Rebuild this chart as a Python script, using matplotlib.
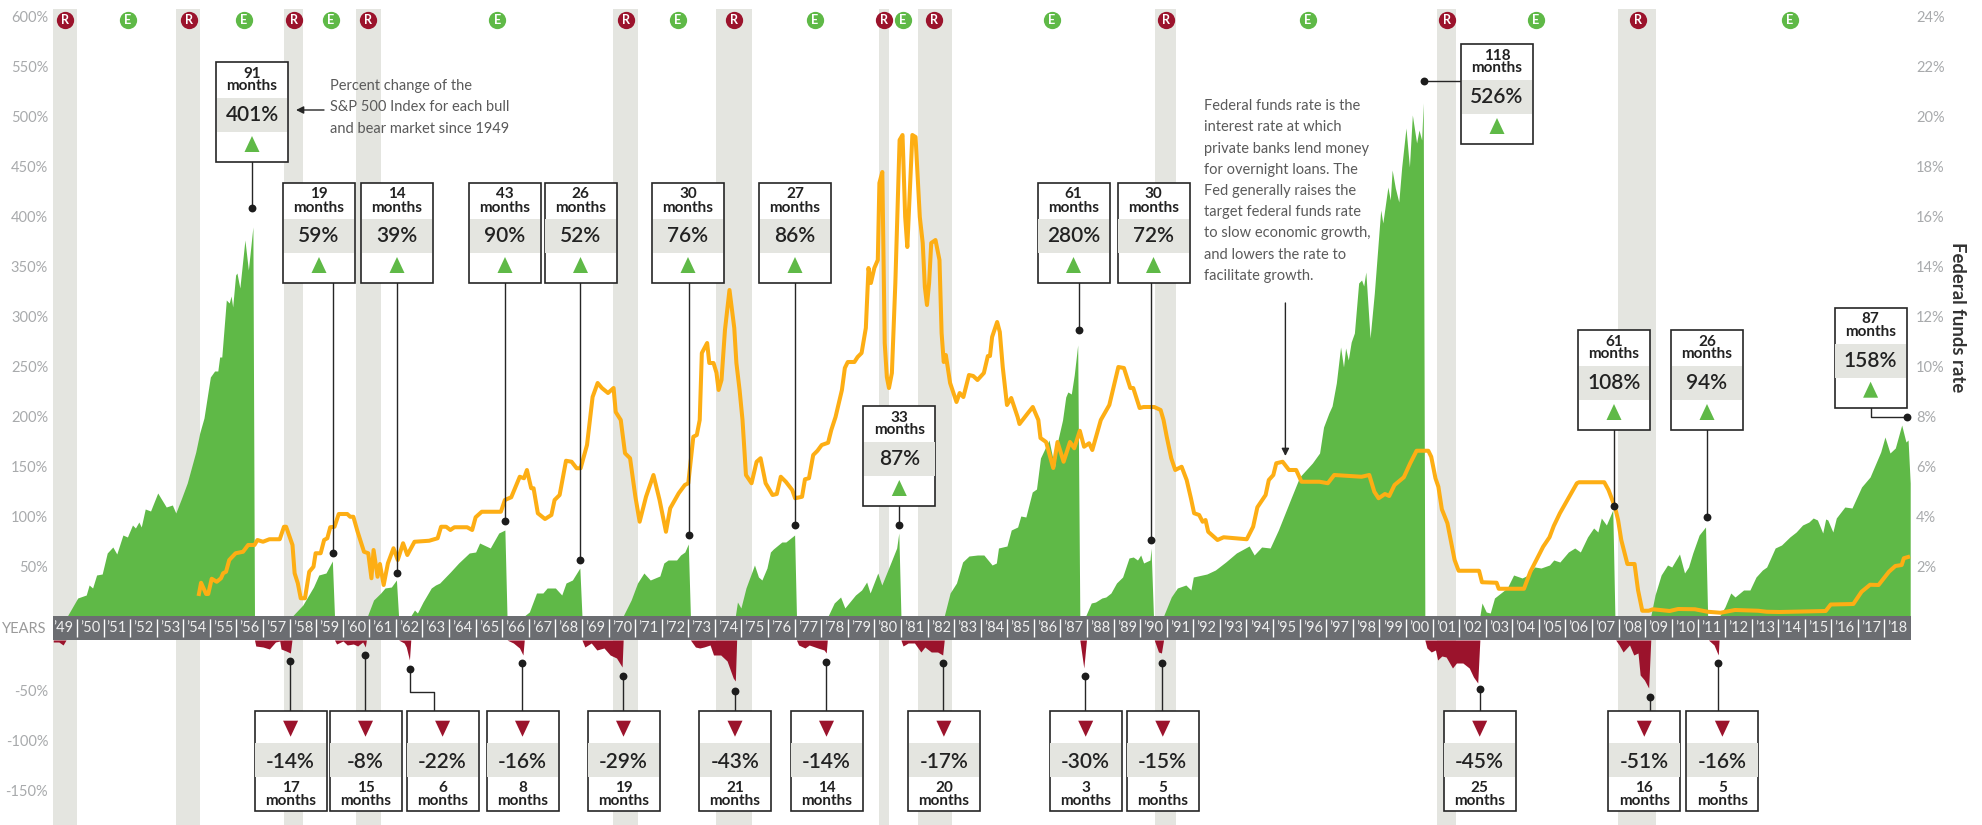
import matplotlib
matplotlib.use("Agg")
import matplotlib.pyplot as plt
from matplotlib.patches import Rectangle, Polygon

plt.rcParams['font.family'] = ['Lato', 'DejaVu Sans']

W, H = 1982, 825

year_labels = list(range(1949, 2019))

# S&P 500 bull markets, percent gain, zero between runs
bull_years = [
    1949.64,1950.03,1950.35,1950.46,1950.59,1950.74,1950.95,1951.14,1951.35,1951.50,1951.73,1951.90,1952.09,1952.20,1952.33,1952.42,1952.57,1952.77,1953.04,1953.36,1953.59,1953.72,1953.94,1954.15,1954.47,1954.62,1954.78,1955.02,1955.18,1955.30,1955.37,1955.45,1955.62,1955.73,1955.80,1955.86,1955.97,1956.02,1956.13,1956.32,1956.45,1956.62,1956.68,
    1958.11,1958.50,1958.90,1959.10,1959.37,1959.61,1959.69,
    1960.93,1961.16,1961.43,1961.59,1961.83,1962.02,1962.10,
    1962.56,1962.70,1962.81,1963.02,1963.33,1963.49,1963.65,1964.05,1964.36,1964.76,1965.00,1965.15,1965.31,1965.55,1965.87,1966.10,1966.18,
    1966.83,1967.02,1967.29,1967.53,1967.69,1968.00,1968.24,1968.40,1968.64,1968.92,1969.00,
    1970.55,1970.85,1971.09,1971.33,1971.57,1971.93,1972.08,1972.24,1972.56,1972.71,1972.87,1973.00,1973.08,
    1974.77,1974.85,1974.98,1975.17,1975.49,1975.64,1975.77,1975.96,1976.09,1976.20,1976.52,1976.67,1977.00,1977.07,
    1978.26,1978.49,1978.73,1978.89,1979.29,1979.52,1979.71,1979.84,1980.13,1980.28,1980.63,1980.84,1980.92,1981.00,
    1982.63,1982.85,1983.09,1983.32,1983.56,1983.88,1984.12,1984.43,1984.59,1984.67,1984.99,1985.15,1985.39,1985.51,1985.70,1985.94,1986.10,1986.25,1986.57,1986.78,1986.89,1987.08,1987.20,1987.28,1987.41,1987.52,1987.65,1987.73,
    1987.95,1988.16,1988.32,1988.56,1988.71,1988.90,1989.11,1989.34,1989.58,1989.74,1989.90,1990.02,1990.13,1990.37,1990.41,1990.50,
    1990.88,1991.17,1991.40,1991.72,1991.91,1992.00,1992.51,1992.83,1993.22,1993.62,1994.10,1994.29,1994.57,1994.89,1995.20,1995.68,1996.00,1996.48,1996.75,1996.90,1997.10,1997.22,1997.38,1997.54,1997.65,1997.73,1997.83,1997.94,1998.06,1998.22,1998.33,1998.41,1998.49,1998.65,1998.81,1999.05,1999.13,1999.32,1999.41,1999.48,1999.60,1999.73,1999.84,2000.00,2000.13,2000.24,2000.40,2000.49,2000.59,2000.65,2000.71,
    2002.78,2002.86,2003.02,2003.17,2003.33,2003.57,2003.81,2004.05,2004.37,2004.60,2004.84,2005.08,2005.40,2005.56,2005.79,2006.11,2006.35,2006.56,2006.83,2007.06,2007.22,2007.35,2007.54,2007.78,2007.86,
    2009.21,2009.37,2009.60,2009.84,2010.00,2010.29,2010.48,2010.63,2010.79,2011.03,2011.27,2011.35,
    2011.80,2012.00,2012.22,2012.38,2012.70,2012.94,2013.17,2013.41,2013.57,2013.89,2014.13,2014.44,2014.68,2014.92,2015.16,2015.32,2015.48,2015.68,2015.79,2015.87,2016.06,2016.19,2016.51,2016.78,2017.14,2017.46,2017.86,2018.02,2018.21,2018.41,2018.65,2018.81,2018.89,2018.97,
]
bull_pct = [
    0,18,21,31,28,41,42,63,69,62,81,79,91,88,94,89,107,105,123,109,111,103,118,133,164,183,198,239,245,245,259,259,316,313,320,309,341,343,328,376,346,389,0,
    0,11,29,41,43,55,0,
    0,16,23,28,29,36,0,
    0,6,3,14,28,31,33,44,53,63,64,73,71,68,83,86,0,
    0,4,23,23,28,28,21,33,36,48,0,
    0,16,33,43,36,40,53,56,56,61,64,72,0,
    0,14,8,28,51,39,36,48,64,67,74,74,81,0,
    0,13,19,8,21,26,34,23,43,31,54,68,83,0,
    0,23,33,54,60,61,61,51,53,68,70,86,89,100,99,124,127,158,176,149,174,196,219,224,222,241,271,0,
    0,13,14,18,19,23,33,39,58,59,56,61,53,56,68,0,
    0,19,28,31,26,39,42,46,54,63,70,61,69,68,86,118,139,153,163,189,203,210,233,269,249,268,256,274,283,333,336,330,344,278,323,406,393,429,416,446,428,414,449,488,449,501,473,486,476,513,0,
    0,13,4,3,18,23,28,41,38,41,49,48,51,56,54,64,68,64,79,88,84,98,91,106,0,
    0,21,41,51,49,62,43,49,63,81,89,0,
    0,9,23,19,26,26,39,46,49,68,71,79,84,91,94,98,96,83,97,96,84,98,109,108,129,139,164,179,163,168,191,174,176,133,
]

# bear markets, percent loss
bear_years = [
    1949.11,1949.32,1949.48,1949.59,
    1956.68,1956.73,1957.00,1957.24,1957.47,1957.63,1957.68,1957.87,1958.03,1958.09,
    1959.69,1959.77,1960.01,1960.17,1960.40,1960.56,1960.75,1960.85,1960.89,
    1962.10,1962.31,1962.39,1962.51,1962.56,
    1966.18,1966.42,1966.65,1966.78,1966.83,
    1969.00,1969.11,1969.35,1969.56,1969.83,1970.06,1970.30,1970.51,1970.55,
    1973.08,1973.27,1973.43,1973.59,1973.82,1973.95,1974.22,1974.46,1974.69,1974.77,1974.82,
    1977.07,1977.15,1977.39,1977.55,1977.87,1978.11,1978.19,1978.23,
    1981.00,1981.08,1981.27,1981.51,1981.75,1981.90,1982.14,1982.38,1982.57,1982.63,
    1987.73,1987.88,1987.98,
    1990.53,1990.69,1990.80,1990.88,
    2000.71,2000.79,2000.95,2001.11,2001.19,2001.35,2001.51,2001.75,2001.90,2002.14,2002.38,2002.54,2002.70,2002.78,
    2007.89,2008.02,2008.17,2008.41,2008.57,2008.73,2008.81,2008.97,2009.13,2009.21,
    2011.38,2011.59,2011.70,2011.75,2011.78,
]
bear_pct = [
    -2,-2,-5,0,
    0,-6,-7,-9,-2,-1,-9,-11,-13,0,
    0,-4,-1,-5,-4,-6,-2,-7,0,
    0,-3,-7,-20,0,
    0,-3,-8,-15,0,
    0,-7,-3,-10,-8,-15,-18,-27,0,
    0,-7,-8,-7,-5,-15,-15,-21,-38,-41,0,
    0,-5,-8,-5,-8,-10,-13,0,
    0,-6,-3,-3,-12,-7,-12,-12,-15,0,
    0,-28,0,
    0,-12,-13,0,
    0,-8,-12,-10,-20,-16,-17,-28,-23,-23,-28,-37,-43,0,
    0,-5,-12,-5,-15,-13,-35,-40,-48,0,
    0,-5,-12,-15,0,
]

# effective federal funds rate
rate_years = [
    1954.59,1954.67,1954.86,1954.94,1955.07,1955.26,1955.42,1955.50,1955.61,1955.73,
    1955.97,1956.25,1956.44,1956.68,1956.79,1957.00,1957.24,1957.63,1957.79,1957.87,
    1958.11,1958.19,1958.31,1958.42,1958.58,1958.74,1958.90,1958.98,1959.17,1959.30,
    1959.42,1959.53,1959.69,1959.85,1960.17,1960.28,1960.40,1960.56,1960.80,1960.96,
    1961.08,1961.16,1961.31,1961.40,1961.54,1961.70,1961.91,1962.07,1962.27,1962.43,
    1962.70,1963.25,1963.57,1963.70,1963.89,1964.05,1964.20,1964.68,1964.87,1965.00,
    1965.23,1965.95,1966.10,1966.34,1966.66,1966.82,1966.93,1967.09,1967.18,1967.34,
    1967.61,1967.85,1967.97,1968.16,1968.40,1968.61,1968.80,1968.95,1969.19,1969.40,
    1969.59,1969.75,1969.98,1970.19,1970.27,1970.46,1970.62,1970.81,1971.01,1971.17,
    1971.41,1971.69,1971.92,1972.16,1972.32,1972.64,1972.87,1973.00,1973.19,1973.32,
    1973.43,1973.51,1973.71,1973.79,1973.95,1974.06,1974.14,1974.25,1974.38,1974.55,
    1974.73,1974.81,1974.93,1975.04,1975.17,1975.38,1975.57,1975.72,1975.91,1976.17,
    1976.33,1976.48,1976.67,1976.91,1977.02,1977.28,1977.39,1977.54,1977.70,1977.86,
    1978.02,1978.26,1978.38,1978.54,1978.78,1978.89,1979.00,1979.25,1979.37,1979.52,
    1979.68,1979.78,1979.87,1980.00,1980.13,1980.19,1980.30,1980.39,1980.47,1980.55,
    1980.66,1980.79,1980.95,1981.06,1981.16,1981.24,1981.32,1981.43,1981.55,1981.71,
    1981.82,1981.90,1981.98,1982.06,1982.14,1982.30,1982.45,1982.53,1982.61,1982.69,
    1982.85,1983.09,1983.21,1983.35,1983.56,1983.72,1983.88,1984.12,1984.27,1984.35,
    1984.43,1984.62,1984.72,1984.83,1984.99,1985.15,1985.39,1985.46,1985.78,1985.96,
    1986.17,1986.25,1986.46,1986.73,1986.89,1987.12,1987.36,1987.52,1987.73,1987.89,
    1988.08,1988.20,1988.52,1988.84,1989.18,1989.39,1989.63,1989.74,1989.98,1990.13,
    1990.53,1990.77,1990.88,1991.00,1991.17,1991.32,1991.56,1991.75,1991.91,1992.03,
    1992.22,1992.35,1992.46,1992.56,1992.91,1993.14,1994.01,1994.25,1994.41,1994.72,
    1994.84,1995.01,1995.12,1995.36,1995.60,1995.87,1996.07,1996.75,1997.06,1997.30,
    1998.33,1998.62,1998.81,1998.97,1999.21,1999.37,1999.57,1999.76,1999.92,2000.16,
    2000.40,2000.84,2000.95,2001.11,2001.22,2001.35,2001.56,2001.83,2001.98,2002.75,
    2002.86,2003.41,2003.49,2004.44,2004.68,2005.16,2005.40,2005.56,2005.79,2006.43,
    2006.51,2007.46,2007.62,2007.86,2007.98,2008.10,2008.33,2008.60,2008.73,2008.89,
    2009.13,2009.29,2009.92,2010.24,2010.87,2011.35,2011.83,2012.38,2013.25,2013.57,
    2014.05,2015.79,2015.98,2016.83,2017.14,2017.46,2017.78,2018.17,2018.41,2018.65,
    2018.73,2018.89,
]
rate_pct = [
    0.88,1.33,0.88,0.88,1.49,1.37,1.51,1.71,1.77,2.24,
    2.51,2.57,2.84,2.84,3.04,2.97,3.07,3.07,3.57,3.57,
    2.84,1.71,1.31,0.71,0.71,1.77,1.97,2.51,2.51,3.04,
    3.11,3.55,3.57,4.08,4.08,3.97,3.97,3.37,2.57,2.51,
    1.51,2.64,1.57,2.08,1.24,2.11,2.71,2.24,2.91,2.44,
    2.97,3.01,3.11,3.57,3.57,3.44,3.55,3.55,3.44,3.95,
    4.17,4.17,4.64,4.75,5.57,5.51,5.84,5.11,5.11,4.11,
    3.88,4.04,4.64,4.84,6.21,6.17,5.91,5.91,6.84,8.76,
    9.32,9.12,8.92,9.12,8.16,7.84,6.51,6.31,4.77,3.77,
    4.77,5.64,4.64,3.37,4.31,4.91,5.24,5.31,7.17,7.24,
    7.84,10.52,10.92,10.12,10.12,9.73,9.04,9.44,11.44,13.04,
    11.52,10.12,9.04,7.84,5.64,5.31,6.17,6.31,5.31,4.84,
    4.88,5.57,5.37,5.04,4.71,4.77,5.47,5.51,6.44,6.61,
    6.84,6.93,7.44,7.96,9.04,9.92,10.16,10.16,10.36,10.52,
    11.52,13.92,13.32,13.92,14.24,17.32,17.76,10.92,9.56,9.12,
    9.72,13.32,19.04,19.24,15.96,14.76,16.64,19.24,19.16,15.96,
    14.92,13.16,12.44,13.32,14.92,15.04,14.24,11.32,10.16,10.44,
    9.32,8.56,8.92,8.76,9.64,9.60,9.44,9.72,10.40,10.40,
    11.16,11.76,11.36,9.96,8.44,8.72,7.96,7.68,8.12,8.36,
    7.84,7.12,6.96,5.92,6.96,6.17,6.96,6.71,7.41,6.77,
    6.91,6.64,7.84,8.44,9.96,9.92,9.12,9.12,8.32,8.36,
    8.36,8.24,7.84,7.17,6.31,5.84,5.97,5.44,4.71,4.11,
    4.04,3.77,3.84,3.37,3.04,3.15,3.07,3.57,4.35,4.84,
    5.44,5.64,6.11,6.17,5.84,5.84,5.37,5.37,5.31,5.64,
    5.57,5.64,4.97,4.71,4.88,4.80,5.24,5.41,5.55,6.11,
    6.61,6.61,6.37,5.51,5.17,4.27,3.71,2.24,1.81,1.81,
    1.35,1.33,1.09,1.09,1.77,2.77,3.15,3.60,4.11,5.31,
    5.35,5.35,5.04,4.37,3.84,3.04,2.08,2.08,1.04,0.21,
    0.21,0.27,0.20,0.28,0.27,0.17,0.13,0.24,0.21,0.17,
    0.16,0.20,0.46,0.48,0.97,1.25,1.24,1.77,2.00,2.04,
    2.31,2.36,
]

recession_start = [1949.10,1953.72,1957.79,1960.50,1970.16,1974.03,1980.16,1981.63,1990.56,2001.17,2007.98]
recession_end = [1950.00,1954.62,1958.50,1961.43,1971.11,1975.39,1980.54,1982.94,1991.34,2001.89,2009.41]
r_marks = [1949.56,1954.20,1958.16,1960.96,1970.65,1974.73,1980.38,1982.26,1990.96,2001.54,2008.73]
e_marks = [1951.92,1956.27,1959.56,1965.82,1972.60,1977.75,1981.08,1986.68,1996.31,2004.89,2014.44]

up_ticks = [50,100,150,200,250,300,350,400,450,500,550,600]
down_ticks = [-50,-100,-150]
rate_ticks = [2,4,6,8,10,12,14,16,18,20,22,24]

# callouts: months, percent text
bull_months = [91,19,14,43,26,30,27,33,61,30,118,61,26,87]
bull_text = ['401%','59%','39%','90%','52%','76%','86%','87%','280%','72%','526%','108%','94%','158%']
bear_months = [17,15,6,8,19,21,14,20,3,5,25,16,5]
bear_text = ['-14%','-8%','-22%','-16%','-29%','-43%','-14%','-17%','-30%','-15%','-45%','-51%','-16%']

# box placement in figure pixels
bull_box_left = [216,283,361,469,544.5,652,759,863.3,1037.5,1117.5,1461,1578,1671,1834.6]
bull_box_top = [62,183,183,183,183,183,183,406,183,183,44,330,330,307.7]
bull_line_x = [252,332.5,396.5,504.6,580.4,688.6,794.7,899,1078.8,1151,None,1614,1706.7,None]
bull_dot_y = [208,553,573,520.7,559.7,535,525,524.7,330,539.7,None,506,517,None]
bear_box_left = [254.6,329.5,406.6,486.5,587.5,699,790.5,907.9,1049.7,1126.8,1443.7,1608.3,1686.4]
bear_line_x = [290.4,365.3,410,522.3,622.9,735,825.8,943.2,1085,1162,1479.6,1649.7,1718]
bear_dot_y = [661,655,669.3,663.3,676,690.7,661.7,663,676.3,663.3,689.3,697.3,663]

GREEN = '#5fb947'
RED = '#9b132c'
ORANGE = '#fdae14'
BAND = '#e4e5e0'
BAR = '#6b6d71'
DARK = '#262626'
TICK = '#a8aaac'
NOTE = '#5a5a5a'

X0, X1 = 1949.10, 2019.0


def px_axes(left, top, right, bottom, **kw):
    return fig.add_axes([left / W, 1 - bottom / H, (right - left) / W, (bottom - top) / H], **kw)


fig = plt.figure(figsize=(W / 100, H / 100), dpi=100)

# recession bands and R / E badges
ax_bg = px_axes(53, 9, 1911, 825)
ax_bg.set_xlim(X0, X1)
ax_bg.set_ylim(816, 0)
ax_bg.axis('off')
for a, b in zip(recession_start, recession_end):
    ax_bg.axvspan(a, b, color=BAND, lw=0)
ax_bg.scatter(r_marks, [11] * len(r_marks), s=155, color=RED, lw=0, zorder=3)
ax_bg.scatter(e_marks, [11] * len(e_marks), s=155, color=GREEN, lw=0, zorder=3)
for x in r_marks:
    ax_bg.text(x, 11, 'R', color='white', fontsize=9, fontweight='bold', ha='center', va='center', zorder=4)
for x in e_marks:
    ax_bg.text(x, 11, 'E', color='white', fontsize=9, fontweight='bold', ha='center', va='center', zorder=4)

# bull markets
ax_up = px_axes(53, 9, 1911, 616)
ax_up.patch.set_alpha(0)
ax_up.set_xlim(X0, X1)
ax_up.set_ylim(0, 607)
ax_up.fill_between(bull_years, bull_pct, 0, color=GREEN, lw=0)
ax_up.set_xticks([])
ax_up.set_yticks(up_ticks)
ax_up.set_yticklabels([f'{t}%' for t in up_ticks])
ax_up.tick_params(axis='y', length=0, pad=3.5, labelsize=10.5, labelcolor=TICK)
for s in ax_up.spines.values():
    s.set_visible(False)

# federal funds rate on its own scale
ax_rate = ax_up.twinx()
ax_rate.patch.set_alpha(0)
ax_rate.set_ylim(0, 607 / 25)
ax_rate.plot(rate_years, rate_pct, color=ORANGE, lw=2.9, solid_joinstyle='round')
ax_rate.set_yticks(rate_ticks)
ax_rate.set_yticklabels([f'{t}%' for t in rate_ticks])
ax_rate.tick_params(axis='y', length=0, pad=3.5, labelsize=10.5, labelcolor=TICK)
for s in ax_rate.spines.values():
    s.set_visible(False)

# year strip
ax_yr = px_axes(53, 616, 1911, 640)
ax_yr.set_xlim(X0, X1)
ax_yr.set_ylim(0, 1)
ax_yr.set_facecolor(BAR)
ax_yr.set_xticks([])
ax_yr.set_yticks([])
for s in ax_yr.spines.values():
    s.set_visible(False)
ax_yr.vlines(year_labels[1:], 0.12, 0.88, color='white', lw=1)
for y in year_labels:
    ax_yr.text(y + 0.5, 0.48, f"\u2019{y % 100:02d}", color='#efefef', fontsize=10.5, ha='center', va='center', clip_on=True)

# bear markets
ax_down = px_axes(53, 640, 1911, 825)
ax_down.patch.set_alpha(0)
ax_down.set_xlim(X0, X1)
ax_down.set_ylim(-185, 0)
ax_down.fill_between(bear_years, bear_pct, 0, color=RED, lw=0)
ax_down.set_xticks([])
ax_down.set_yticks(down_ticks)
ax_down.set_yticklabels([f'{t}%' for t in down_ticks])
ax_down.tick_params(axis='y', length=0, pad=3.5, labelsize=10.5, labelcolor=TICK)
for s in ax_down.spines.values():
    s.set_visible(False)

# overlay in figure pixels for callouts and notes
ov = fig.add_axes([0, 0, 1, 1], zorder=10)
ov.patch.set_alpha(0)
ov.set_xlim(0, W)
ov.set_ylim(H, 0)
ov.axis('off')


def dot(x, y):
    ov.scatter([x], [y], s=32, color='#1c1c1c', lw=0, zorder=6)


def box(left, top, months, text, up):
    bw, bh = 72, 100
    ov.add_patch(Rectangle((left, top), bw, bh, fc='white', ec=DARK, lw=1.2, zorder=3))
    cx = left + bw / 2
    if up:
        band_y, val_y, m1_y, m2_y = top + 36, top + 53, top + 11.5, top + 24.5
        tri = [(cx, top + 74), (cx - 7.5, top + 90), (cx + 7.5, top + 90)]
        col = GREEN
    else:
        band_y, val_y, m1_y, m2_y = top + 32.5, top + 51, top + 77, top + 90
        tri = [(cx - 7.5, top + 10), (cx + 7.5, top + 10), (cx, top + 26)]
        col = RED
    ov.add_patch(Rectangle((left + 0.6, band_y), bw - 1.2, 34, fc=BAND, lw=0, zorder=4))
    ov.add_patch(Polygon(tri, closed=True, fc=col, lw=0, zorder=4))
    ov.text(cx, val_y, text, fontsize=15, fontweight='semibold', color='#222222', ha='center', va='center', zorder=5)
    ov.text(cx, m1_y, str(months), fontsize=11, fontweight='bold', color='#222222', ha='center', va='center', zorder=5)
    ov.text(cx, m2_y, 'months', fontsize=11, fontweight='bold', color='#222222', ha='center', va='center', zorder=5)


for i in range(len(bull_months)):
    left, top = bull_box_left[i], bull_box_top[i]
    if bull_line_x[i] is not None:
        ov.plot([bull_line_x[i]] * 2, [top + 100, bull_dot_y[i]], color=DARK, lw=1, zorder=2)
        dot(bull_line_x[i], bull_dot_y[i])
    box(left, top, bull_months[i], bull_text[i], True)

# the two callouts with elbow or sideways leaders
ov.plot([1424, 1461], [80.7, 80.7], color=DARK, lw=1, zorder=2)
dot(1424, 80.7)
ov.plot([1871, 1871, 1906.7], [408, 416.7, 416.7], color=DARK, lw=1, zorder=2)
dot(1906.7, 416.7)

for i in range(len(bear_months)):
    left = bear_box_left[i]
    if bear_months[i] == 6:
        ov.plot([410, 410, 434.3, 434.3], [bear_dot_y[i], 691.7, 691.7, 710.7], color=DARK, lw=1, zorder=2)
    else:
        ov.plot([bear_line_x[i]] * 2, [bear_dot_y[i], 710.7], color=DARK, lw=1, zorder=2)
    dot(bear_line_x[i], bear_dot_y[i])
    box(left, 710.7, bear_months[i], bear_text[i], False)

ov.text(46, 629, 'YEARS', fontsize=10.5, color='#9a9a9a', ha='right', va='center')
ov.text(1958, 317, 'Federal funds rate', fontsize=13.3, fontweight='bold', color='#333333',
        rotation=270, ha='center', va='center')

note1 = ['Percent change of the', 'S&P 500 Index for each bull', 'and bear market since 1949']
for i, t in enumerate(note1):
    ov.text(329.5, 86 + i * 21.4, t, fontsize=10.5, fontweight='normal', color=NOTE, ha='left', va='center')
ov.annotate('', xy=(296, 110), xytext=(324, 110),
            arrowprops=dict(arrowstyle='-|>', color=DARK, lw=1, mutation_scale=11, shrinkA=0, shrinkB=0))

note2 = ['Federal funds rate is the', 'interest rate at which', 'private banks lend money',
         'for overnight loans. The', 'Fed generally raises the', 'target federal funds rate',
         'to slow economic growth,', 'and lowers the rate to', 'facilitate growth.']
for i, t in enumerate(note2):
    ov.text(1204, 106 + i * 21.25, t, fontsize=10.5, fontweight='normal', color=NOTE, ha='left', va='center')
ov.annotate('', xy=(1285.4, 456), xytext=(1285.4, 303),
            arrowprops=dict(arrowstyle='-|>', color=DARK, lw=1, mutation_scale=11, shrinkA=0, shrinkB=0))

fig.savefig('out.png', dpi=100)
